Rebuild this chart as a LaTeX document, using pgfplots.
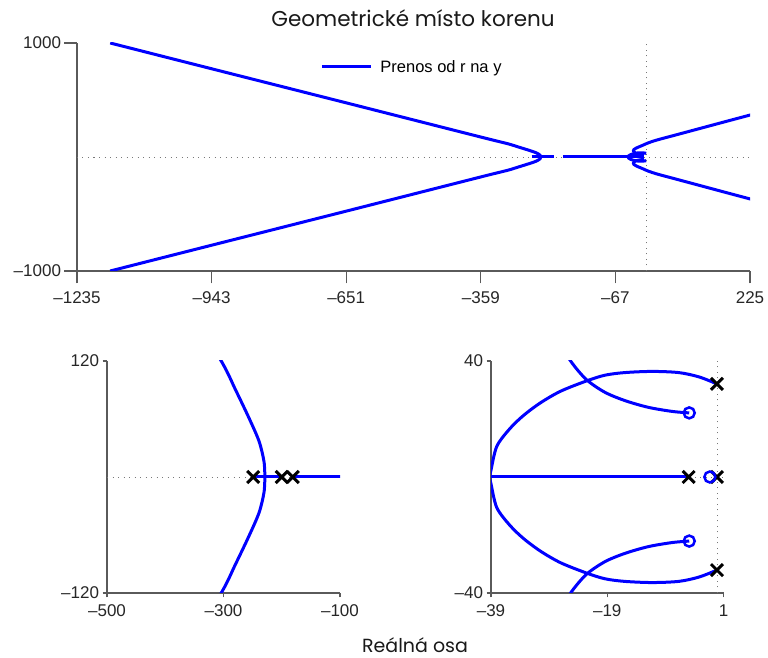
\documentclass[border=0pt]{standalone}
\usepackage{pgfplots}
\usepackage{pgfplotstable}
\pgfplotsset{compat=1.18}
\usepackage{fontspec}
\setmainfont{Liberation Sans}
\newfontfamily\titlefont{Poppins}

\pgfplotstableread{
x y
-229 0
-230.5 16
-239 37
-257 62
-280 91
-302 118
-359 175
-651 475
-943 774
-1163 1000
}\branchA

\pgfplotstableread{
x y
-0.13 32.1
-3.2 34.5
-6.7 36.0
-11.3 36.4
-16.0 36.0
-19.4 35.1
-22.6 33.1
-27.0 29.6
-30.4 25.7
-33.3 21.4
-35.7 16.8
-38.0 10.6
-39.0 2.4
-39.3 0
}\arcB

\pgfplotstableread{
x y
-4.9 22.1
-7.8 22.6
-11.9 24.0
-15.9 26.3
-19.4 29.2
-22.6 33.6
-25.2 39.7
-27 46
-28 55
-27 65
-22 78
-14 92
-7 104
5 125
24 150
60 189
118 252
176 315
227 370
240 384
}\branchZ

\definecolor{axgray}{RGB}{90,90,90}
\definecolor{dotgray}{RGB}{120,120,120}

\pgfplotsset{
  locus/.style={
    scale only axis,
    axis lines=left,
    axis line style={-, line width=1.3pt, axgray},
    tick align=outside,
    every tick/.style={line width=1.3pt, axgray},
    enlargelimits=false,
    clip=true,
    tick label style={font=\fontsize{17}{19}\selectfont, text=black!85},
  },
  bl/.style={blue, line width=3pt, forget plot, smooth, tension=0.5},
  bs/.style={blue, line width=3pt, forget plot},
  dt/.style={dotgray, line width=0.9pt, dash pattern=on 1pt off 4.5pt, forget plot},
  xm/.style={black, line width=3pt, only marks, mark=x, mark size=8.5pt,
    mark options={solid, draw=black, line width=3pt}, forget plot},
  om/.style={blue, line width=2.5pt, only marks, mark=o, mark size=5.5pt,
    mark options={solid, draw=blue, line width=2.5pt}, forget plot},
}

\begin{document}
\begin{tikzpicture}[x=1pt,y=1pt]
\useasboundingbox (0,0) rectangle (768,658);

% ---------- top axis ----------
\begin{axis}[locus,
  at={(77pt,387pt)}, anchor=south west,
  width=673pt, height=228pt,
  major tick length=12.5pt,
  xticklabel style={yshift=-4.5pt},
  xmin=-1235, xmax=225, ymin=-1000, ymax=1000,
  xtick={-1235,-943,-651,-359,-67,225},
  xticklabels={\textendash1235,\textendash943,\textendash651,\textendash359,\textendash67,225},
  ytick={-1000,1000},
  yticklabels={\textendash1000,1000},
  legend style={draw=none, fill=none, at={(0.357,0.895)}, anchor=west,
    font=\fontsize{16.5}{18}\selectfont, legend cell align=left},
  legend image code/.code={\draw[#1] (0pt,0pt) -- (49pt,0pt); \path (55pt,0pt);},
]
\addplot[dt] coordinates {(-1235,0) (225,0)};
\addplot[dt] coordinates {(0,-1000) (0,1000)};
\addplot[blue, line width=3pt, smooth, tension=0.5] table[x=x,y=y]{\branchA};
\addlegendentry{Prenos od r na y}
\addplot[bl] table[x=x,y expr=-\thisrow{y}]{\branchA};
\addplot[bs] coordinates {(-249,0) (-200,0)};
\addplot[bs] coordinates {(-181,0) (-5,0)};
\addplot[bl] table[x=x,y=y]{\arcB};
\addplot[bl] table[x=x,y expr=-\thisrow{y}]{\arcB};
\addplot[bl] table[x=x,y=y]{\branchZ};
\addplot[bl] table[x=x,y expr=-\thisrow{y}]{\branchZ};
\end{axis}

% ---------- bottom left ----------
\begin{axis}[locus,
  at={(107pt,65pt)}, anchor=south west,
  width=233pt, height=232pt,
  major tick length=4.5pt,
  xticklabel style={yshift=-3.5pt},
  xmin=-500, xmax=-100, ymin=-120, ymax=120,
  xtick={-500,-300,-100},
  xticklabels={\textendash500,\textendash300,\textendash100},
  ytick={-120,120},
  yticklabels={\textendash120,120},
]
\addplot[dt] coordinates {(-500,0) (-100,0)};
\addplot[bl] table[x=x,y=y]{\branchA};
\addplot[bl] table[x=x,y expr=-\thisrow{y}]{\branchA};
\addplot[bs] coordinates {(-249,0) (-200,0)};
\addplot[bs] coordinates {(-181,0) (-5,0)};
\addplot[xm] coordinates {(-249,0) (-200,0) (-181,0)};
\end{axis}

% ---------- bottom right ----------
\begin{axis}[locus,
  at={(491pt,65pt)}, anchor=south west,
  width=232.5pt, height=232pt,
  major tick length=4.5pt,
  xticklabel style={yshift=-3.5pt},
  xmin=-39, xmax=1, ymin=-40, ymax=40,
  xtick={-39,-19,1},
  xticklabels={\textendash39,\textendash19,1},
  ytick={-40,40},
  yticklabels={\textendash40,40},
]
\addplot[dt] coordinates {(-39,0) (1,0)};
\addplot[dt] coordinates {(0,-40) (0,40)};
\addplot[bs] coordinates {(-181,0) (-5,0)};
\addplot[bl] table[x=x,y=y]{\arcB};
\addplot[bl] table[x=x,y expr=-\thisrow{y}]{\arcB};
\addplot[bl] table[x=x,y=y]{\branchZ};
\addplot[bl] table[x=x,y expr=-\thisrow{y}]{\branchZ};
\addplot[xm] coordinates {(-5,0) (-0.13,0) (-0.13,32.1) (-0.13,-32.1)};
\addplot[om] coordinates {(-4.9,22.1) (-4.9,-22.1) (-1.35,0)};
\end{axis}

\node[font=\titlefont\fontsize{21.5}{24}\selectfont, text=black!90] at (413,640) {Geometrické místo korenu};
\node[font=\titlefont\fontsize{19}{22}\selectfont, text=black!90] at (415,13) {Reálná osa};
\end{tikzpicture}
\end{document}
